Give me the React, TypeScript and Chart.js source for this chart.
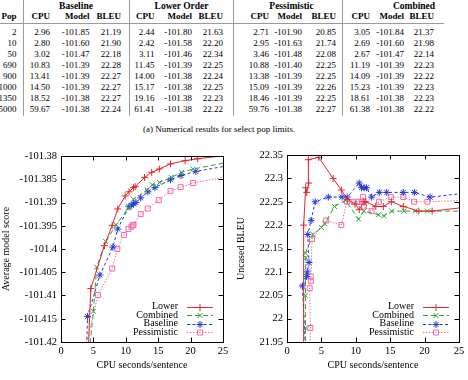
import React, { useEffect, useRef } from "react";
import { Chart, registerables } from "chart.js";

Chart.register(...registerables);

const SERIF = '"Liberation Serif", "Times New Roman", Times, serif';

// ---- Table (a): results for select pop limits ----
const popLimits = ["2", "10", "50", "690", "900", "1000", "1350", "5000"];

const tblBaselineCpu = [2.96, 2.8, 3.02, 10.83, 13.41, 14.5, 18.52, 59.67];
const tblBaselineModel = [-101.85, -101.6, -101.47, -101.39, -101.39, -101.39, -101.38, -101.38];
const tblBaselineBleu = [21.19, 21.9, 22.18, 22.28, 22.27, 22.27, 22.27, 22.24];

const tblLowerCpu = [2.44, 2.42, 3.11, 11.45, 14.0, 15.17, 19.16, 61.41];
const tblLowerModel = [-101.8, -101.58, -101.46, -101.39, -101.38, -101.38, -101.38, -101.38];
const tblLowerBleu = [21.63, 22.2, 22.34, 22.25, 22.24, 22.25, 22.23, 22.22];

const tblPessCpu = [2.71, 2.95, 3.46, 10.88, 13.38, 15.09, 18.46, 59.76];
const tblPessModel = [-101.9, -101.63, -101.48, -101.4, -101.39, -101.39, -101.39, -101.38];
const tblPessBleu = [20.85, 21.74, 22.08, 22.25, 22.25, 22.26, 22.25, 22.27];

const tblCombCpu = [3.05, 2.69, 2.67, 11.19, 14.09, 15.23, 18.61, 61.38];
const tblCombModel = [-101.84, -101.6, -101.47, -101.39, -101.39, -101.39, -101.38, -101.38];
const tblCombBleu = [21.37, 21.98, 22.14, 22.23, 22.22, 22.23, 22.23, 22.22];

// ---- Plots (b): model score and BLEU against CPU time, per pop limit ----
const lowerCpu = [2.44, 2.42, 2.72, 2.87, 3.16, 3.11, 4.6, 6.7, 7.9, 8.76, 9.9, 10.5, 11.2, 11.45, 12.9, 14.0, 15.17, 16.9, 19.16, 21.1, 27.0, 61.41];
const lowerModel = [-101.8, -101.58, -101.54, -101.51, -101.49, -101.46, -101.4085, -101.3993, -101.3949, -101.3914, -101.3886, -101.3877, -101.3868, -101.3866, -101.3846, -101.3835, -101.3828, -101.3817, -101.381, -101.3806, -101.3796, -101.378];
const lowerBleu = [21.63, 22.2, 22.28, 22.27, 22.29, 22.34, 22.345, 22.3, 22.275, 22.255, 22.245, 22.233, 22.25, 22.25, 22.24, 22.24, 22.25, 22.24, 22.23, 22.23, 22.24, 22.22];

const combinedCpu = [3.05, 2.69, 2.68, 2.72, 2.67, 3.8, 5.0, 5.5, 6.9, 8.5, 10.4, 11.19, 13.3, 14.09, 15.23, 17.0, 18.61, 20.4, 27.0, 61.38];
const combinedModel = [-101.84, -101.6, -101.55, -101.51, -101.47, -101.43, -101.4134, -101.4039, -101.3984, -101.3948, -101.3912, -101.3893, -101.3873, -101.3862, -101.3857, -101.3846, -101.3835, -101.3828, -101.381, -101.378];
const combinedBleu = [21.37, 21.98, 22.05, 22.13, 22.14, 22.18, 22.195, 22.203, 22.24, 22.253, 22.213, 22.23, 22.222, 22.22, 22.23, 22.23, 22.23, 22.23, 22.23, 22.22];

const baselineCpu = [2.96, 2.8, 2.24, 2.85, 2.95, 3.2, 3.02, 3.5, 4.1, 6.0, 8.0, 8.75, 10.5, 10.83, 11.2, 11.55, 12.3, 13.41, 14.5, 16.9, 18.52, 20.8, 27.0, 59.67];
const baselineModel = [-101.85, -101.6, -101.56, -101.53, -101.51, -101.49, -101.47, -101.44, -101.4145, -101.4056, -101.3996, -101.3957, -101.3909, -101.3906, -101.3903, -101.39, -101.389, -101.3877, -101.3868, -101.3851, -101.3842, -101.3833, -101.3818, -101.377];
const baselineBleu = [21.19, 21.9, 22.07, 22.09, 22.1, 22.12, 22.18, 22.21, 22.25, 22.26, 22.26, 22.26, 22.29, 22.28, 22.28, 22.28, 22.26, 22.27, 22.27, 22.27, 22.27, 22.26, 22.27, 22.24];

const pessimisticCpu = [2.71, 2.95, 3.4, 3.3, 3.45, 3.46, 3.64, 5.7, 7.9, 8.7, 9.7, 10.4, 10.88, 11.06, 11.2, 12.3, 13.38, 15.09, 16.9, 18.46, 20.4, 59.76];
const pessimisticModel = [-101.9, -101.63, -101.56, -101.52, -101.5, -101.48, -101.422, -101.4099, -101.4042, -101.4, -101.397, -101.3957, -101.3952, -101.3949, -101.3948, -101.3925, -101.3913, -101.3895, -101.3875, -101.3867, -101.3858, -101.3755];
const pessimisticBleu = [20.85, 21.74, 21.98, 22.065, 22.09, 22.08, 22.17, 22.21, 22.2, 22.25, 22.25, 22.25, 22.25, 22.26, 22.24, 22.23, 22.25, 22.26, 22.26, 22.25, 22.25, 22.27];

const cpuTicks = [0, 5, 10, 15, 20, 25];
const modelTicks = [-101.42, -101.415, -101.41, -101.405, -101.4, -101.395, -101.39, -101.385, -101.38];
const bleuTicks = [21.95, 22.0, 22.05, 22.1, 22.15, 22.2, 22.25, 22.3, 22.35];

type Marker = "plus" | "cross" | "star" | "square";

interface SeriesDef {
  label: string;
  cpu: number[];
  model: number[];
  bleu: number[];
  color: string;
  dash: number[];
  marker: Marker;
}

const series: SeriesDef[] = [
  { label: "Lower", cpu: lowerCpu, model: lowerModel, bleu: lowerBleu, color: "#e2262b", dash: [], marker: "plus" },
  { label: "Combined", cpu: combinedCpu, model: combinedModel, bleu: combinedBleu, color: "#2f9f35", dash: [5, 3], marker: "cross" },
  { label: "Baseline", cpu: baselineCpu, model: baselineModel, bleu: baselineBleu, color: "#2336dc", dash: [3, 2.5], marker: "star" },
  { label: "Pessimistic", cpu: pessimisticCpu, model: pessimisticModel, bleu: pessimisticBleu, color: "#f26aa8", dash: [1.5, 1.5], marker: "square" },
];

const chartStyle: Record<Marker, string> = { plus: "cross", cross: "crossRot", star: "star", square: "rect" };

const MARK_R = 3.5;
const TICK_LEN = 4.5;

function drawMarker(ctx: CanvasRenderingContext2D, kind: Marker, x: number, y: number, r: number) {
  ctx.beginPath();
  if (kind === "plus" || kind === "star") {
    ctx.moveTo(x - r, y);
    ctx.lineTo(x + r, y);
    ctx.moveTo(x, y - r);
    ctx.lineTo(x, y + r);
  }
  if (kind === "cross" || kind === "star") {
    const d = r * Math.SQRT1_2;
    ctx.moveTo(x - d, y - d);
    ctx.lineTo(x + d, y + d);
    ctx.moveTo(x - d, y + d);
    ctx.lineTo(x + d, y - d);
  }
  if (kind === "square") {
    const s = r * Math.SQRT1_2;
    ctx.rect(x - s, y - s, 2 * s, 2 * s);
  }
  ctx.stroke();
}

// Border, mirrored inward tick marks and the key in the lower right corner
const framePlugin = {
  id: "gnuFrame",
  afterDraw(chart: any) {
    const { ctx, chartArea: a, scales } = chart;
    ctx.save();
    ctx.strokeStyle = "#000";
    ctx.lineWidth = 1;
    ctx.setLineDash([]);
    ctx.beginPath();
    for (const v of cpuTicks) {
      const px = Math.round(scales.x.getPixelForValue(v)) + 0.5;
      ctx.moveTo(px, a.bottom);
      ctx.lineTo(px, a.bottom - TICK_LEN);
      ctx.moveTo(px, a.top);
      ctx.lineTo(px, a.top + TICK_LEN);
    }
    for (const t of scales.y.ticks) {
      const py = Math.round(scales.y.getPixelForValue(t.value)) + 0.5;
      ctx.moveTo(a.left, py);
      ctx.lineTo(a.left + TICK_LEN, py);
      ctx.moveTo(a.right, py);
      ctx.lineTo(a.right - TICK_LEN, py);
    }
    ctx.stroke();
    ctx.strokeRect(Math.round(a.left) + 0.5, Math.round(a.top) + 0.5, Math.round(a.right - a.left), Math.round(a.bottom - a.top));

    // key
    ctx.font = `10px ${SERIF}`;
    ctx.textAlign = "right";
    ctx.textBaseline = "middle";
    series.forEach((s, i) => {
      const y = a.bottom - 35.5 + i * 8.5;
      ctx.fillStyle = "#000";
      ctx.fillText(s.label, a.right - 45, y);
      ctx.strokeStyle = s.color;
      ctx.setLineDash(s.dash);
      ctx.beginPath();
      ctx.moveTo(a.right - 36, Math.round(y) + 0.5);
      ctx.lineTo(a.right - 10, Math.round(y) + 0.5);
      ctx.stroke();
      ctx.setLineDash([]);
      drawMarker(ctx, s.marker, a.right - 23, Math.round(y) + 0.5, MARK_R);
    });
    ctx.restore();
  },
};

interface PlotProps {
  left: number;
  top: number;
  width: number;
  height: number;
  field: "model" | "bleu";
  yMin: number;
  yMax: number;
  yTicks: number[];
  digits: number;
  yTitle: string;
  axisWidth: number;
  padTop: number;
  padRight: number;
  xAxisHeight: number;
  yTitlePad: number;
}

function ScorePlot(p: PlotProps) {
  const ref = useRef<HTMLCanvasElement>(null);
  useEffect(() => {
    const canvas = ref.current;
    if (!canvas) return;
    const tickFont = { family: SERIF, size: 10.5 };
    const titleFont = { family: SERIF, size: 10 };
    const chart = new Chart(canvas, {
      type: "scatter",
      data: {
        datasets: series.map((s) => ({
          label: s.label,
          data: s.cpu.map((x, i) => ({ x, y: s[p.field][i] })),
          showLine: true,
          borderColor: s.color,
          borderWidth: 1,
          borderDash: s.dash,
          pointStyle: chartStyle[s.marker] as any,
          pointRadius: MARK_R,
          pointBorderColor: s.color,
          pointBackgroundColor: "rgba(0,0,0,0)",
          pointBorderWidth: 1,
          tension: 0,
          fill: false,
        })),
      },
      options: {
        animation: false,
        responsive: false,
        devicePixelRatio: 1,
        layout: { padding: { left: 0, top: p.padTop, right: p.padRight, bottom: 0 } },
        plugins: { legend: { display: false }, tooltip: { enabled: false } },
        scales: {
          x: {
            type: "linear",
            min: 0,
            max: 25,
            afterBuildTicks: (s: any) => {
              s.ticks = cpuTicks.map((v) => ({ value: v }));
            },
            afterFit: (s: any) => {
              s.height = p.xAxisHeight;
              s.paddingLeft = 0;
              s.paddingRight = 0;
            },
            grid: { display: false, drawTicks: false },
            border: { display: false },
            ticks: { padding: 3, font: tickFont, color: "#000", maxRotation: 0, autoSkip: false },
            title: { display: true, text: "CPU seconds/sentence", font: titleFont, color: "#000", padding: { top: 0, bottom: 9 } },
          },
          y: {
            type: "linear",
            min: p.yMin,
            max: p.yMax,
            afterBuildTicks: (s: any) => {
              s.ticks = p.yTicks.map((v) => ({ value: v }));
            },
            afterFit: (s: any) => {
              s.width = p.axisWidth;
              s.paddingTop = 0;
              s.paddingBottom = 0;
            },
            grid: { display: false, drawTicks: false },
            border: { display: false },
            ticks: {
              padding: 4,
              font: tickFont,
              color: "#000",
              autoSkip: false,
              callback: (v: any) => String(Number(Number(v).toFixed(p.digits))),
            },
            title: { display: true, text: p.yTitle, font: titleFont, color: "#000", padding: { top: p.yTitlePad, bottom: 0 } },
          },
        },
      },
      plugins: [framePlugin],
    });
    return () => chart.destroy();
  }, []);
  return (
    <canvas
      ref={ref}
      width={p.width}
      height={p.height}
      style={{ position: "absolute", left: p.left, top: p.top, width: p.width, height: p.height }}
    />
  );
}

// ---- table layout ----
const ROW0 = 31.5;
const ROW_H = 11;

function Cell({ text, right, y, bold }: { text: string; right: number; y: number; bold?: boolean }) {
  return (
    <div
      style={{
        position: "absolute",
        right: 468 - right,
        top: y - 6,
        height: 12,
        lineHeight: "12px",
        fontSize: 9,
        fontWeight: bold ? "bold" : "normal",
        whiteSpace: "nowrap",
        textAlign: "right",
      }}
    >
      {text}
    </div>
  );
}

function GroupHead({ text, center }: { text: string; center: number }) {
  return (
    <div
      style={{
        position: "absolute",
        left: center - 50,
        width: 100,
        top: 0,
        height: 12,
        lineHeight: "12px",
        fontSize: 9.5,
        fontWeight: "bold",
        textAlign: "center",
        whiteSpace: "nowrap",
      }}
    >
      {text}
    </div>
  );
}

const groups = [
  { name: "Baseline", center: 76, cols: [50, 89.5, 121], cpu: tblBaselineCpu, model: tblBaselineModel, bleu: tblBaselineBleu },
  { name: "Lower Order", center: 181.5, cols: [154.5, 192, 223], cpu: tblLowerCpu, model: tblLowerModel, bleu: tblLowerBleu },
  { name: "Pessimistic", center: 291.5, cols: [269, 302, 336], cpu: tblPessCpu, model: tblPessModel, bleu: tblPessBleu },
  { name: "Combined", center: 414, cols: [370, 404, 434], cpu: tblCombCpu, model: tblCombModel, bleu: tblCombBleu },
];

const ruleXs = [22.5, 129, 233, 341.5];

function ResultsTable() {
  return (
    <div style={{ position: "absolute", left: 0, top: 0, width: 468, height: 120 }}>
      {groups.map((g) => (
        <GroupHead key={g.name} text={g.name} center={g.center} />
      ))}
      <Cell text="Pop" right={16.5} y={16} bold />
      {groups.map((g) =>
        ["CPU", "Model", "BLEU"].map((h, k) => <Cell key={g.name + h} text={h} right={g.cols[k]} y={16} bold />)
      )}
      {popLimits.map((pop, r) => (
        <Cell key={"pop" + r} text={pop} right={16.5} y={ROW0 + r * ROW_H} />
      ))}
      {groups.map((g) =>
        g.cpu.map((_, r) => (
          <React.Fragment key={g.name + r}>
            <Cell text={g.cpu[r].toFixed(2)} right={g.cols[0]} y={ROW0 + r * ROW_H} />
            <Cell text={g.model[r].toFixed(2)} right={g.cols[1]} y={ROW0 + r * ROW_H} />
            <Cell text={g.bleu[r].toFixed(2)} right={g.cols[2]} y={ROW0 + r * ROW_H} />
          </React.Fragment>
        ))
      )}
      {ruleXs.map((x) => (
        <div key={x} style={{ position: "absolute", left: x, top: 0, width: 1, height: 116, background: "#9a9a9a" }} />
      ))}
      <div style={{ position: "absolute", left: 0, top: 23, width: 444, height: 1, background: "#9a9a9a" }} />
    </div>
  );
}

function Caption({ text, left, center }: { text: string; left: number; center: number }) {
  return (
    <div
      style={{
        position: "absolute",
        left,
        top: center - 6,
        height: 12,
        lineHeight: "12px",
        fontSize: 9,
        whiteSpace: "nowrap",
      }}
    >
      {text}
    </div>
  );
}

export default function App() {
  return (
    <div
      style={{
        position: "fixed",
        left: 0,
        top: 0,
        width: 468,
        height: 380,
        overflow: "hidden",
        background: "#fff",
        color: "#000",
        fontFamily: SERIF,
      }}
    >
      <ResultsTable />
      <Caption text="(a) Numerical results for select pop limits." left={143} center={129} />
      <ScorePlot
        left={0}
        top={140}
        width={234}
        height={240}
        field="model"
        yMin={-101.42}
        yMax={-101.38}
        yTicks={modelTicks}
        digits={3}
        yTitle="Average model score"
        axisWidth={61}
        padTop={16}
        padRight={11}
        xAxisHeight={38}
        yTitlePad={0}
      />
      <ScorePlot
        left={234}
        top={140}
        width={234}
        height={240}
        field="bleu"
        yMin={21.95}
        yMax={22.35}
        yTicks={bleuTicks}
        digits={2}
        yTitle="Uncased BLEU"
        axisWidth={53}
        padTop={15}
        padRight={9}
        xAxisHeight={38}
        yTitlePad={1}
      />
      <Caption text="(b) Model and BLEU scores near the plateau." left={152.5} center={383} />
    </div>
  );
}
